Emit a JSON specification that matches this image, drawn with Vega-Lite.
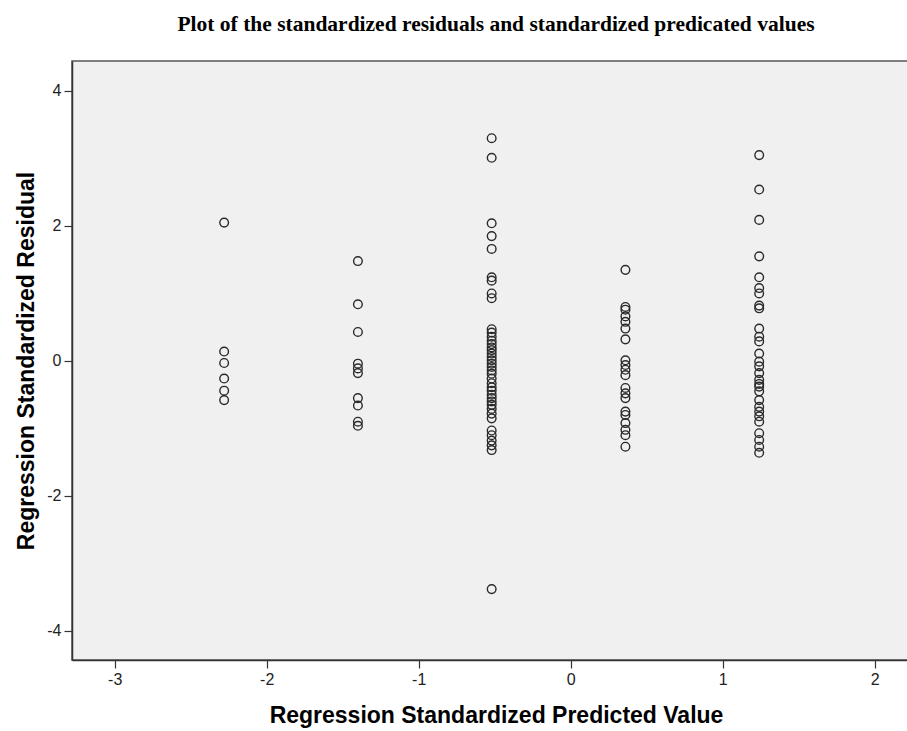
{
  "$schema": "https://vega.github.io/schema/vega-lite/v6.json",
  "autosize": {"type": "none"},
  "padding": {"left": 72, "top": 61, "right": 0, "bottom": 71},
  "width": 848,
  "height": 599,
  "background": "white",
  "title": {
    "text": "Plot of the standardized residuals and standardized predicated values",
    "font": "Liberation Serif",
    "fontSize": 21.5,
    "fontWeight": "bold",
    "color": "#000",
    "anchor": "middle",
    "offset": 26
  },
  "datasets": {
    "pts": [
      {"pred": -2.28, "resid": 2.05}, {"pred": -2.28, "resid": 0.14}, {"pred": -2.28, "resid": -0.03}, {"pred": -2.28, "resid": -0.26}, {"pred": -2.28, "resid": -0.44}, {"pred": -2.28, "resid": -0.58},
      {"pred": -1.40, "resid": 1.48}, {"pred": -1.40, "resid": 0.84}, {"pred": -1.40, "resid": 0.43}, {"pred": -1.40, "resid": -0.04}, {"pred": -1.40, "resid": -0.11}, {"pred": -1.40, "resid": -0.18}, {"pred": -1.40, "resid": -0.55}, {"pred": -1.40, "resid": -0.66}, {"pred": -1.40, "resid": -0.90}, {"pred": -1.40, "resid": -0.96},
      {"pred": -0.52, "resid": 3.30}, {"pred": -0.52, "resid": 3.01}, {"pred": -0.52, "resid": 2.04}, {"pred": -0.52, "resid": 1.85}, {"pred": -0.52, "resid": 1.66}, {"pred": -0.52, "resid": 1.24}, {"pred": -0.52, "resid": 1.19}, {"pred": -0.52, "resid": 1.00}, {"pred": -0.52, "resid": 0.93}, {"pred": -0.52, "resid": 0.47}, {"pred": -0.52, "resid": 0.42}, {"pred": -0.52, "resid": 0.36}, {"pred": -0.52, "resid": 0.30}, {"pred": -0.52, "resid": 0.25}, {"pred": -0.52, "resid": 0.20}, {"pred": -0.52, "resid": 0.16}, {"pred": -0.52, "resid": 0.11}, {"pred": -0.52, "resid": 0.06}, {"pred": -0.52, "resid": 0.01}, {"pred": -0.52, "resid": -0.04}, {"pred": -0.52, "resid": -0.09}, {"pred": -0.52, "resid": -0.14}, {"pred": -0.52, "resid": -0.19}, {"pred": -0.52, "resid": -0.26}, {"pred": -0.52, "resid": -0.33}, {"pred": -0.52, "resid": -0.39}, {"pred": -0.52, "resid": -0.44}, {"pred": -0.52, "resid": -0.50}, {"pred": -0.52, "resid": -0.55}, {"pred": -0.52, "resid": -0.60}, {"pred": -0.52, "resid": -0.65}, {"pred": -0.52, "resid": -0.71}, {"pred": -0.52, "resid": -0.78}, {"pred": -0.52, "resid": -0.85}, {"pred": -0.52, "resid": -1.03}, {"pred": -0.52, "resid": -1.10}, {"pred": -0.52, "resid": -1.18}, {"pred": -0.52, "resid": -1.25}, {"pred": -0.52, "resid": -1.32}, {"pred": -0.52, "resid": -3.38},
      {"pred": 0.36, "resid": 1.35}, {"pred": 0.36, "resid": 0.80}, {"pred": 0.36, "resid": 0.76}, {"pred": 0.36, "resid": 0.66}, {"pred": 0.36, "resid": 0.58}, {"pred": 0.36, "resid": 0.48}, {"pred": 0.36, "resid": 0.32}, {"pred": 0.36, "resid": 0.01}, {"pred": 0.36, "resid": -0.06}, {"pred": 0.36, "resid": -0.13}, {"pred": 0.36, "resid": -0.21}, {"pred": 0.36, "resid": -0.40}, {"pred": 0.36, "resid": -0.48}, {"pred": 0.36, "resid": -0.55}, {"pred": 0.36, "resid": -0.75}, {"pred": 0.36, "resid": -0.80}, {"pred": 0.36, "resid": -0.92}, {"pred": 0.36, "resid": -1.02}, {"pred": 0.36, "resid": -1.10}, {"pred": 0.36, "resid": -1.27},
      {"pred": 1.24, "resid": 3.05}, {"pred": 1.24, "resid": 2.54}, {"pred": 1.24, "resid": 2.09}, {"pred": 1.24, "resid": 1.55}, {"pred": 1.24, "resid": 1.24}, {"pred": 1.24, "resid": 1.08}, {"pred": 1.24, "resid": 1.00}, {"pred": 1.24, "resid": 0.82}, {"pred": 1.24, "resid": 0.78}, {"pred": 1.24, "resid": 0.48}, {"pred": 1.24, "resid": 0.36}, {"pred": 1.24, "resid": 0.29}, {"pred": 1.24, "resid": 0.11}, {"pred": 1.24, "resid": -0.01}, {"pred": 1.24, "resid": -0.08}, {"pred": 1.24, "resid": -0.18}, {"pred": 1.24, "resid": -0.28}, {"pred": 1.24, "resid": -0.34}, {"pred": 1.24, "resid": -0.38}, {"pred": 1.24, "resid": -0.45}, {"pred": 1.24, "resid": -0.58}, {"pred": 1.24, "resid": -0.68}, {"pred": 1.24, "resid": -0.75}, {"pred": 1.24, "resid": -0.82}, {"pred": 1.24, "resid": -0.90}, {"pred": 1.24, "resid": -1.07}, {"pred": 1.24, "resid": -1.17}, {"pred": 1.24, "resid": -1.27}, {"pred": 1.24, "resid": -1.36}
    ]
  },
  "data": {"name": "pts"},
  "mark": {"type": "point", "shape": "circle", "filled": false, "stroke": "#2a2a2a", "strokeWidth": 1.4, "size": 75, "opacity": 1},
  "encoding": {
    "x": {
      "field": "pred", "type": "quantitative",
      "scale": {"domain": [-3.281, 2.298], "nice": false, "zero": false},
      "axis": {"title": "Regression Standardized Predicted Value", "values": [-3, -2, -1, 0, 1, 2], "labelExpr": "'' + datum.value", "grid": false}
    },
    "y": {
      "field": "resid", "type": "quantitative",
      "scale": {"domain": [-4.43, 4.444], "nice": false, "zero": false},
      "axis": {"title": "Regression Standardized Residual", "values": [-4, -2, 0, 2, 4], "labelExpr": "'' + datum.value", "grid": false}
    }
  },
  "config": {
    "view": {"fill": "#f0f0f0", "stroke": "#555", "strokeWidth": 1.5},
    "axis": {
      "domainColor": "#333", "domainWidth": 1.5,
      "tickColor": "#333", "tickWidth": 1.2, "tickSize": 8,
      "labelFont": "Liberation Sans", "labelFontSize": 16, "labelColor": "#222", "labelPadding": 3,
      "titleFont": "Liberation Sans", "titleFontSize": 23, "titleFontWeight": "bold", "titleColor": "#000"
    },
    "axisX": {"titlePadding": 17},
    "axisY": {"titlePadding": 8}
  }
}
